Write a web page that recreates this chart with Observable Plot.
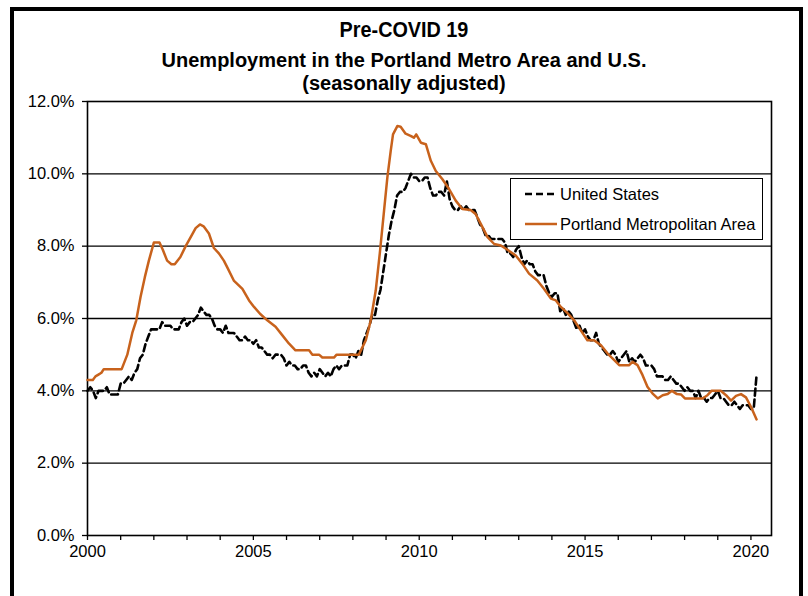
<!DOCTYPE html>
<html><head><meta charset="utf-8">
<script src="https://cdn.jsdelivr.net/npm/d3@7"></script>
<script src="https://cdn.jsdelivr.net/npm/@observablehq/plot@0.6"></script>
<style>
body{margin:0;background:#fff;font-family:"Liberation Sans",Arial,sans-serif;color:#000;}
#frame{position:absolute;left:10px;top:7px;width:785px;height:600px;border:4px solid #000;border-bottom:none;}
.t{position:absolute;left:0;width:808px;text-align:center;font-weight:bold;white-space:nowrap;}
#chart{position:absolute;left:0;top:92px;}
#chart svg text{font-size:16.5px;}
#legend{position:absolute;left:510px;top:178px;width:251px;height:60px;border:1px solid #000;background:#fff;font-size:16.5px;}
.row{position:absolute;left:0;height:20px;display:flex;align-items:center;}
.row svg{margin-left:14px;margin-right:3px;}
</style></head><body>
<div id="frame"></div>
<div class="t" style="top:18px;font-size:22px;line-height:24px;transform:scaleX(0.9);">Pre-COVID 19</div>
<div class="t" style="top:49px;font-size:20px;line-height:22px;">Unemployment in the Portland Metro Area and U.S.</div>
<div class="t" style="top:72px;font-size:20px;line-height:22px;">(seasonally adjusted)</div>
<div id="chart"></div>
<div id="legend">
  <div class="row" style="top:5px;"><svg width="32" height="6"><line x1="0" y1="3" x2="32" y2="3" stroke="#000" stroke-width="2.5" stroke-dasharray="7,4"/></svg><span>United States</span></div>
  <div class="row" style="top:35px;"><svg width="32" height="6"><line x1="0" y1="3" x2="32" y2="3" stroke="#c8621c" stroke-width="2.5"/></svg><span>Portland Metropolitan Area</span></div>
</div>
<script>
// U.S. unemployment rate, monthly from Jan 2000 to Mar 2020 (%)
const usValues = [
  4.0,4.1,4.0,3.8,4.0,4.0,4.0,4.1,3.9,3.9,3.9,3.9,
  4.2,4.2,4.3,4.4,4.3,4.5,4.6,4.9,5.0,5.3,5.5,5.7,
  5.7,5.7,5.7,5.9,5.8,5.8,5.8,5.7,5.7,5.7,5.9,6.0,
  5.8,5.9,5.9,6.0,6.1,6.3,6.2,6.1,6.1,6.0,5.8,5.7,
  5.7,5.6,5.8,5.6,5.6,5.6,5.5,5.4,5.4,5.5,5.4,5.4,
  5.3,5.4,5.2,5.2,5.1,5.0,5.0,4.9,5.0,5.0,5.0,4.9,
  4.7,4.8,4.7,4.7,4.6,4.6,4.7,4.7,4.5,4.4,4.5,4.4,
  4.6,4.5,4.4,4.5,4.4,4.6,4.7,4.6,4.7,4.7,4.7,5.0,
  5.0,4.9,5.1,5.0,5.4,5.6,5.8,6.1,6.1,6.5,6.8,7.3,
  7.8,8.3,8.7,9.0,9.4,9.5,9.5,9.6,9.8,10.0,9.9,9.9,
  9.8,9.8,9.9,9.9,9.6,9.4,9.4,9.5,9.5,9.4,9.8,9.3,
  9.1,9.0,9.0,9.1,9.0,9.1,9.0,9.0,9.0,8.8,8.6,8.5,
  8.3,8.3,8.2,8.2,8.2,8.2,8.2,8.1,7.8,7.8,7.7,7.9,
  8.0,7.7,7.5,7.6,7.5,7.5,7.3,7.2,7.2,7.2,6.9,6.7,
  6.6,6.7,6.7,6.2,6.3,6.1,6.2,6.1,5.9,5.7,5.8,5.6,
  5.7,5.5,5.4,5.4,5.6,5.3,5.2,5.1,5.0,5.0,5.1,5.0,
  4.8,4.9,5.0,5.1,4.8,4.9,4.8,4.9,5.0,4.9,4.7,4.7,
  4.7,4.6,4.4,4.4,4.4,4.3,4.3,4.4,4.3,4.2,4.2,4.1,
  4.0,4.1,4.0,4.0,3.8,4.0,3.8,3.8,3.7,3.8,3.8,3.9,
  4.0,3.8,3.8,3.7,3.6,3.6,3.7,3.6,3.5,3.6,3.6,3.6,
  3.5,3.5,4.4
];
const usStartYear = 2000;

// Portland Metropolitan Area (decimal year, %)
const pdxYears = [
  2000.00,2000.16,2000.24,2000.33,2000.42,2000.49,2001.03,2001.20,2001.35,2001.47,2001.60,2001.73,2001.85,
  2002.00,2002.17,2002.27,2002.40,2002.53,2002.63,2002.80,2002.96,2003.14,2003.26,2003.39,2003.50,2003.66,
  2003.81,2003.96,2004.11,2004.21,2004.41,2004.67,2004.87,2005.02,2005.20,2005.42,2005.67,2005.87,2006.07,
  2006.27,2006.68,2006.78,2006.98,2007.08,2007.43,2007.51,2008.18,2008.39,2008.54,2008.69,2008.81,2008.94,
  2009.04,2009.14,2009.21,2009.34,2009.44,2009.59,2009.74,2009.84,2009.91,2010.05,2010.20,2010.35,2010.50,
  2010.70,2010.90,2011.10,2011.30,2011.55,2011.70,2011.86,2012.06,2012.26,2012.46,2012.66,2012.91,2013.11,
  2013.31,2013.56,2013.76,2013.97,2014.12,2014.27,2014.47,2014.67,2014.87,2015.07,2015.27,2015.48,2015.68,
  2015.88,2016.03,2016.33,2016.43,2016.58,2016.73,2016.88,2017.03,2017.19,2017.34,2017.49,2017.62,2017.77,
  2017.89,2018.01,2018.54,2018.69,2018.81,2019.09,2019.25,2019.40,2019.55,2019.70,2019.85,2020.00,2020.17
];
const pdxValues = [
  4.3,4.3,4.4,4.45,4.5,4.6,4.6,5.0,5.6,5.95,6.6,7.15,7.6,
  8.1,8.1,7.9,7.6,7.5,7.5,7.7,8.0,8.3,8.5,8.6,8.55,8.35,
  7.95,7.8,7.6,7.42,7.05,6.82,6.5,6.32,6.13,5.95,5.77,5.54,5.31,
  5.12,5.12,5.0,5.0,4.92,4.92,5.0,5.0,5.4,5.95,6.78,7.79,8.98,
  9.9,10.63,11.09,11.32,11.3,11.11,11.05,11.0,11.09,10.86,10.82,10.36,10.08,
  9.85,9.58,9.26,9.03,9.0,8.89,8.61,8.25,8.06,8.02,7.9,7.74,7.51,
  7.24,7.05,6.82,6.55,6.5,6.32,6.15,5.95,5.67,5.4,5.4,5.26,5.03,
  4.85,4.71,4.71,4.8,4.71,4.44,4.11,3.93,3.79,3.88,3.91,4.0,3.91,
  3.9,3.79,3.79,3.88,4.0,4.0,3.88,3.73,3.86,3.91,3.82,3.56,3.21
];

const yTicks = [0,2,4,6,8,10,12];
const gridValues = [2,4,6,8,10];
const xTickYears = d3.range(2000, 2021);
const xLabelYears = [2000,2005,2010,2015,2020];

const usRows = usValues.map((v,i)=>({x: usStartYear + i/12, v}));
const pdxRows = pdxValues.map((v,i)=>({x: pdxYears[i], v}));
const orange = "#c8621c";

const chart = Plot.plot({
  width: 808, height: 504,
  marginLeft: 87, marginRight: 37, marginTop: 9, marginBottom: 61,
  x: {domain: [2000, 2020.62]},
  y: {domain: [0, 12]},
  style: {fontFamily: "'Liberation Sans', Arial, sans-serif", fontSize: "16.5px", color: "#000", background: "transparent", overflow: "visible"},
  marks: [
    Plot.ruleY(gridValues, {stroke: "#000", strokeWidth: 1.3}),
    Plot.frame({stroke: "#000", strokeWidth: 1.6}),
    Plot.axisY({ticks: yTicks, tickSize: 5, tickPadding: 8, tickFormat: d => d.toFixed(1) + "%", label: null, strokeWidth: 1.3}),
    Plot.axisX({ticks: xTickYears, tickSize: 5, tickFormat: () => "", label: null, strokeWidth: 1.3}),
    Plot.axisX({ticks: xLabelYears, tickSize: 0, tickPadding: 10, tickFormat: d => String(d), label: null}),
    Plot.line(usRows, {x: "x", y: "v", stroke: "#000", strokeWidth: 2.6, strokeDasharray: "7,4"}),
    Plot.line(pdxRows, {x: "x", y: "v", stroke: orange, strokeWidth: 2.5})
  ]
});
document.getElementById("chart").appendChild(chart);
</script>
</body></html>
